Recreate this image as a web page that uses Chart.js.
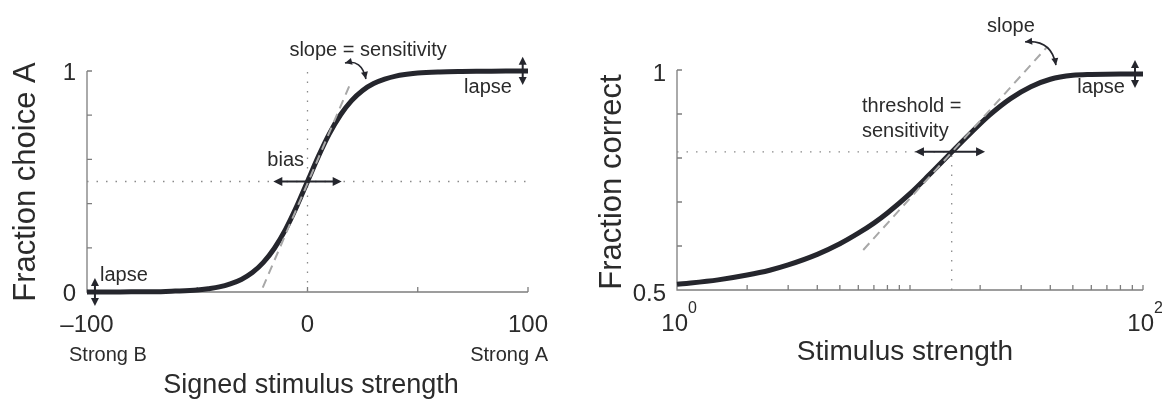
<!DOCTYPE html>
<html>
<head>
<meta charset="utf-8">
<script src="https://cdn.jsdelivr.net/npm/chart.js@4.4.1/dist/chart.umd.min.js"></script>
<style>
  html, body { margin: 0; padding: 0; background: #fff; }
  .panel { position: absolute; top: 0; height: 400px; }
  #left { left: 0; width: 580px; }
  #right { left: 580px; width: 582px; }
</style>
</head>
<body>
<div class="panel" id="left"><canvas id="leftChart" width="580" height="400"></canvas></div>
<div class="panel" id="right"><canvas id="rightChart" width="582" height="400"></canvas></div>
<script>
// left panel: signed stimulus strength -> fraction choice A
const signedStrength = [-100, -90, -80, -70, -60, -50, -45, -40, -35, -30, -25, -20, -15, -10, -5, 0,
  5, 10, 15, 20, 25, 30, 35, 40, 45, 50, 60, 70, 80, 90, 100];
const fractionChoiceA = [0.000, 0.000, 0.001, 0.001, 0.004, 0.009, 0.015, 0.023, 0.037, 0.057, 0.088, 0.134, 0.198, 0.282, 0.385, 0.500,
  0.615, 0.718, 0.802, 0.866, 0.912, 0.943, 0.963, 0.977, 0.985, 0.991, 0.996, 0.998, 0.999, 1.000, 1.000];
const slopeLeftX = [-20.3, 19.3];
const slopeLeftY = [0.02, 0.94];
const biasX = [-100, 100];
const biasY = [0.5, 0.5];
const leftXTicks = [-100, -50, 0, 50, 100];
const leftXLabels = ["\u2013100", "", "0", "", "100"];
const leftYTicks = [0, 0.2, 0.4, 0.6, 0.8, 1];
const leftYLabels = ["0", "", "", "", "", "1"];

// right panel: stimulus strength (log) -> fraction correct
const stimulusStrength = [1, 1.5, 2, 2.5, 3, 4, 5, 6, 7, 8, 10, 12, 15, 18, 22, 27, 33, 40, 50, 60, 80, 100];
const fractionCorrect = [0.513, 0.523, 0.534, 0.545, 0.557, 0.581, 0.605, 0.629, 0.652, 0.675, 0.719, 0.760, 0.812,
  0.854, 0.898, 0.935, 0.962, 0.979, 0.988, 0.990, 0.991, 0.991];
const slopeRightX = [6.3, 38.7];
const slopeRightY = [0.591, 1.052];
const thresholdX = 15.1;
const thresholdY = 0.814;
const rightXTicks = [1, 2, 3, 4, 5, 6, 7, 8, 9, 10, 20, 30, 40, 50, 60, 70, 80, 90, 100];
const rightXLabels = { 1: "0", 100: "2" }; // exponents of 10
const rightYTicks = [0.5, 0.6, 0.7, 0.8, 0.9, 1];
const rightYLabels = ["0.5", "", "", "", "", "1"];

const ink = "#25262d";
const textColor = "#2b2b2b";
const axisGray = "#7d7d7d";
const font = size => `${size}px "Liberation Sans", Arial, sans-serif`;

const pts = (xs, ys) => xs.map((x, i) => ({ x: x, y: ys[i] }));

function curveSet(data) {
  return { data: data, borderColor: ink, borderWidth: 5, cubicInterpolationMode: "monotone", order: 1, clip: false };
}
function dashedSet(data) {
  return { data: data, borderColor: "#a8a8a8", borderWidth: 2, borderDash: [9, 6], order: 0, clip: false };
}
function dottedSet(data) {
  return { data: data, borderColor: "#8a8a8a", borderWidth: 1.3, borderDash: [1.5, 8], order: 2, clip: false };
}

// arrows
function head(ctx, x, y, ang, len, wid) {
  const c = Math.cos(ang), s = Math.sin(ang);
  ctx.beginPath();
  ctx.moveTo(x, y);
  ctx.lineTo(x - len * c + wid / 2 * s, y - len * s - wid / 2 * c);
  ctx.lineTo(x - len * c - wid / 2 * s, y - len * s + wid / 2 * c);
  ctx.closePath();
  ctx.fill();
}
function doubleArrow(ctx, x1, y1, x2, y2, len = 9, wid = 9) {
  const ang = Math.atan2(y2 - y1, x2 - x1);
  const c = Math.cos(ang), s = Math.sin(ang);
  ctx.lineWidth = 2;
  ctx.beginPath();
  ctx.moveTo(x1 + c * len * 0.7, y1 + s * len * 0.7);
  ctx.lineTo(x2 - c * len * 0.7, y2 - s * len * 0.7);
  ctx.stroke();
  head(ctx, x2, y2, ang, len, wid);
  head(ctx, x1, y1, ang + Math.PI, len, wid);
}
function curvedArrow(ctx, p1, cp, p2) {
  ctx.lineWidth = 1.6;
  ctx.beginPath();
  ctx.moveTo(p1[0], p1[1]);
  ctx.quadraticCurveTo(cp[0], cp[1], p2[0], p2[1]);
  ctx.stroke();
  head(ctx, p2[0], p2[1], Math.atan2(p2[1] - cp[1], p2[0] - cp[0]), 7, 7);
  head(ctx, p1[0], p1[1], Math.atan2(p1[1] - cp[1], p1[0] - cp[0]), 7, 7);
}

// axes drawn paper-style: left + bottom lines, inward ticks
function drawAxes(chart, spec) {
  const { ctx, chartArea: a } = chart;
  const xs = chart.scales.x, ys = chart.scales.y;
  ctx.save();
  ctx.strokeStyle = axisGray;
  ctx.lineWidth = 1.3;
  ctx.beginPath();
  ctx.moveTo(a.left, a.top);
  ctx.lineTo(a.left, a.bottom);
  ctx.lineTo(a.right, a.bottom);
  spec.xTicks.forEach(v => {
    const px = xs.getPixelForValue(v);
    ctx.moveTo(px, a.bottom);
    ctx.lineTo(px, a.bottom - 5);
  });
  spec.yTicks.forEach(v => {
    const py = ys.getPixelForValue(v);
    ctx.moveTo(a.left, py);
    ctx.lineTo(a.left + 5, py);
  });
  ctx.stroke();

  ctx.fillStyle = textColor;
  ctx.font = font(24);
  ctx.textAlign = "right";
  ctx.textBaseline = "alphabetic";
  spec.yTicks.forEach((v, i) => {
    if (spec.yLabels[i]) ctx.fillText(spec.yLabels[i], a.left - 11, ys.getPixelForValue(v) + spec.yLabelShift);
  });

  // y title
  ctx.save();
  ctx.font = font(31);
  ctx.textAlign = "center";
  ctx.translate(spec.yTitleX, spec.yTitleY);
  ctx.rotate(-Math.PI / 2);
  ctx.fillText(spec.yTitle, 0, 0);
  ctx.restore();

  // x title
  ctx.font = font(spec.xTitleSize);
  ctx.textAlign = "center";
  ctx.fillText(spec.xTitle, spec.xTitleX, spec.xTitleY);
  ctx.restore();
}

// left chart
const leftNotes = {
  id: "leftNotes",
  beforeDatasetsDraw(chart) {
    drawAxes(chart, {
      xTicks: leftXTicks, yTicks: leftYTicks, yLabels: leftYLabels, yLabelShift: 9,
      yTitle: "Fraction choice A", yTitleX: 35, yTitleY: 182,
      xTitle: "Signed stimulus strength", xTitleSize: 27, xTitleX: 311, xTitleY: 393
    });
    const { ctx, chartArea: a } = chart;
    const xs = chart.scales.x;
    ctx.save();
    ctx.fillStyle = textColor;
    ctx.font = font(24);
    ctx.textAlign = "center";
    leftXTicks.forEach((v, i) => {
      if (leftXLabels[i]) ctx.fillText(leftXLabels[i], xs.getPixelForValue(v), a.bottom + 40);
    });
    ctx.font = font(20);
    ctx.textAlign = "left";
    ctx.fillText("Strong B", xs.getPixelForValue(-100) - 18, a.bottom + 69);
    ctx.textAlign = "right";
    ctx.fillText("Strong A", xs.getPixelForValue(100) + 20, a.bottom + 69);
    ctx.restore();
  },
  afterDatasetsDraw(chart) {
    const { ctx } = chart;
    const X = v => chart.scales.x.getPixelForValue(v);
    const Y = v => chart.scales.y.getPixelForValue(v);
    ctx.save();
    ctx.fillStyle = ink;
    ctx.strokeStyle = ink;
    doubleArrow(ctx, X(-15.5), Y(0.5), X(15.5), Y(0.5));
    doubleArrow(ctx, X(97.6), Y(1.065), X(97.6), Y(0.937), 8, 8);
    doubleArrow(ctx, X(-96.4), Y(0.063), X(-96.4), Y(-0.063), 8, 8);
    curvedArrow(ctx, [X(17.0), Y(1.036)], [X(24.5), Y(1.055)], [X(26.5), Y(0.964)]);

    ctx.fillStyle = textColor;
    ctx.font = font(20);
    ctx.textAlign = "left";
    ctx.fillText("slope = sensitivity", X(-8.2), Y(1.068));
    ctx.fillText("bias", X(-18.2), Y(0.572));
    ctx.fillText("lapse", X(-94.1), Y(0.051));
    ctx.textAlign = "right";
    ctx.fillText("lapse", X(92.7), Y(0.9));
    ctx.restore();
  }
};

new Chart(document.getElementById("leftChart"), {
  type: "line",
  data: {
    datasets: [
      curveSet(pts(signedStrength, fractionChoiceA)),
      dashedSet(pts(slopeLeftX, slopeLeftY)),
      dottedSet(pts(biasX, biasY)),
      dottedSet([{ x: 0, y: 0 }, { x: 0, y: 1 }])
    ]
  },
  options: {
    responsive: false,
    animation: false,
    layout: { padding: { left: 87, right: 52, top: 71, bottom: 108 } },
    elements: { point: { radius: 0 } },
    plugins: { legend: { display: false }, tooltip: { enabled: false } },
    scales: {
      x: { type: "linear", min: -100, max: 100, display: false },
      y: { type: "linear", min: 0, max: 1, display: false }
    }
  },
  plugins: [leftNotes]
});

// right chart
const rightNotes = {
  id: "rightNotes",
  beforeDatasetsDraw(chart) {
    drawAxes(chart, {
      xTicks: rightXTicks, yTicks: rightYTicks, yLabels: rightYLabels, yLabelShift: 11,
      yTitle: "Fraction correct", yTitleX: 41, yTitleY: 182,
      xTitle: "Stimulus strength", xTitleSize: 28, xTitleX: 325, xTitleY: 360
    });
    const { ctx, chartArea: a } = chart;
    const xs = chart.scales.x;
    ctx.save();
    ctx.fillStyle = textColor;
    Object.keys(rightXLabels).forEach(k => {
      const px = xs.getPixelForValue(Number(k));
      ctx.font = font(24);
      ctx.textAlign = "right";
      ctx.fillText("10", px + 11, a.bottom + 41);
      ctx.font = font(16);
      ctx.textAlign = "left";
      ctx.fillText(rightXLabels[k], px + 11, a.bottom + 23);
    });
    ctx.restore();
  },
  afterDatasetsDraw(chart) {
    const { ctx } = chart;
    const X = v => chart.scales.x.getPixelForValue(v);
    const Y = v => chart.scales.y.getPixelForValue(v);
    ctx.save();
    ctx.fillStyle = ink;
    ctx.strokeStyle = ink;
    doubleArrow(ctx, X(10.5), Y(thresholdY), X(21.0), Y(thresholdY));
    doubleArrow(ctx, X(92.4), Y(1.0227), X(92.4), Y(0.959), 8, 8);
    curvedArrow(ctx, [X(31.2), Y(1.064)], [X(40.5), Y(1.07)], [X(42.3), Y(1.011)]);

    ctx.fillStyle = textColor;
    ctx.font = font(20);
    ctx.textAlign = "left";
    ctx.fillText("slope", X(21.4), Y(1.087));
    ctx.fillText("threshold =", X(6.22), Y(0.905));
    ctx.fillText("sensitivity", X(6.22), Y(0.8466));
    ctx.textAlign = "right";
    ctx.fillText("lapse", X(83.7), Y(0.9477));
    ctx.restore();
  }
};

new Chart(document.getElementById("rightChart"), {
  type: "line",
  data: {
    datasets: [
      curveSet(pts(stimulusStrength, fractionCorrect)),
      dashedSet(pts(slopeRightX, slopeRightY)),
      dottedSet([{ x: 1, y: thresholdY }, { x: thresholdX, y: thresholdY }]),
      dottedSet([{ x: thresholdX, y: 0.5 }, { x: thresholdX, y: thresholdY }])
    ]
  },
  options: {
    responsive: false,
    animation: false,
    layout: { padding: { left: 97, right: 19, top: 70, bottom: 110 } },
    elements: { point: { radius: 0 } },
    plugins: { legend: { display: false }, tooltip: { enabled: false } },
    scales: {
      x: { type: "logarithmic", min: 1, max: 100, display: false },
      y: { type: "linear", min: 0.5, max: 1, display: false }
    }
  },
  plugins: [rightNotes]
});
</script>
</body>
</html>
